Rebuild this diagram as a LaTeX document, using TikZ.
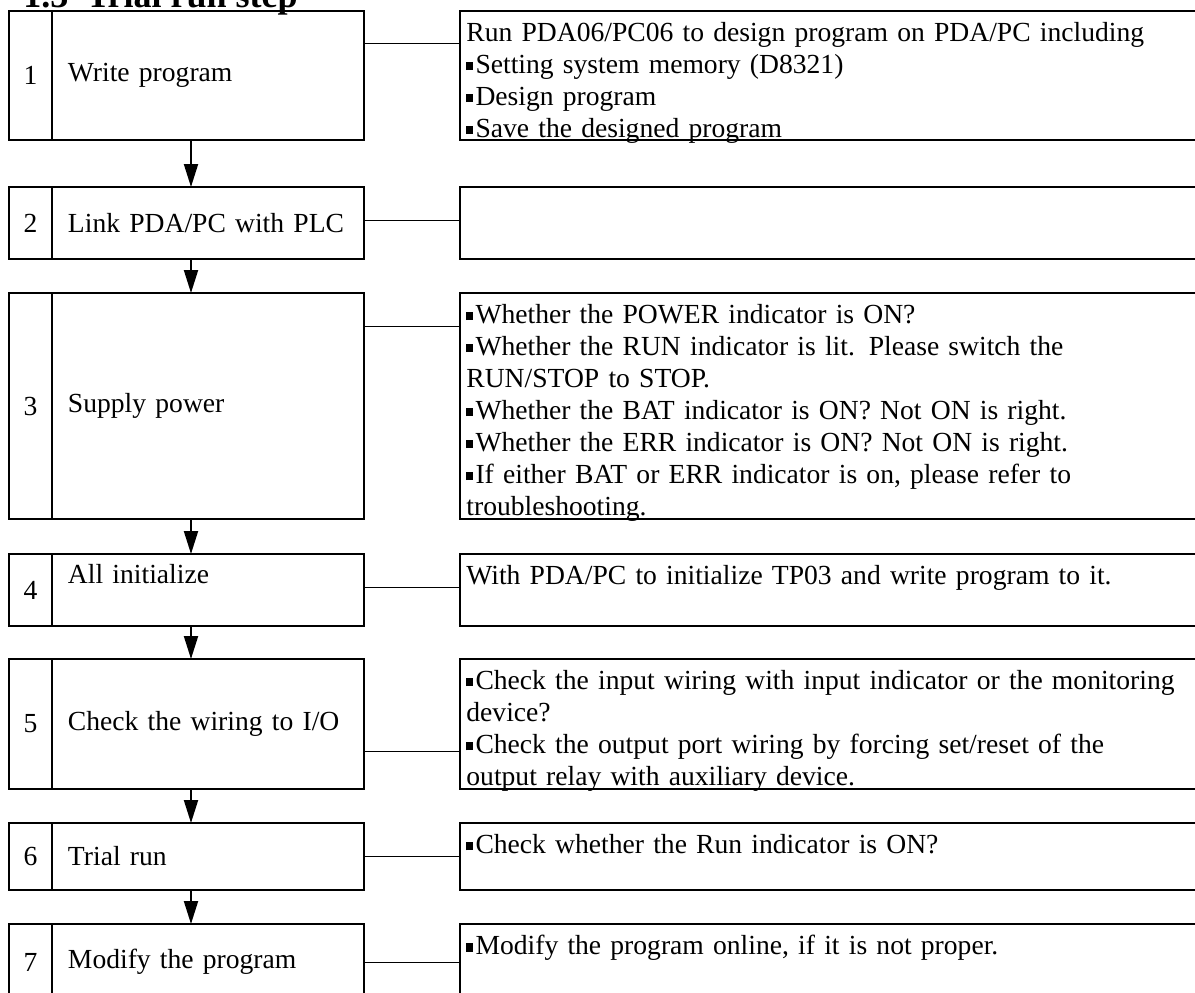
\documentclass[tikz,border=0pt]{standalone}
\usepackage{fontspec}
\setmainfont{Liberation Serif}
\usetikzlibrary{positioning,arrows.meta}

\newcommand{\sqbul}{\rule[0.12em]{0.23em}{0.3em}\hspace{0.1em}}

\begin{document}
\begin{tikzpicture}[
		x=0.5pt, y=-0.5pt,
		every node/.style={font=\fontsize{13.8}{16}\selectfont},
		numbox/.style={draw, line width=1pt, outer sep=0pt, inner sep=0pt, minimum width=21.5pt},
		stepbox/.style={draw, line width=1pt, outer sep=0pt, inner xsep=8pt, inner ysep=0pt, text width=140pt, align=left},
		infobox/.style={draw, line width=1pt, outer sep=0pt, inner sep=0pt, minimum width=380pt},
		infotext/.style={anchor=north west, inner sep=0pt, text width=370pt, align=left},
		arrow/.style={-{Triangle[length=11.5pt, width=7pt]}, line width=1pt},
		link/.style={line width=0.5pt}
		]
		\useasboundingbox (0,0) rectangle (1195,992);
		\clip (0,0) rectangle (1195,992);
		
		\node[anchor=base west, inner sep=0pt, font=\fontsize{18}{20}\selectfont\bfseries] (title) at (23,7) {1.3\hspace{0.5em}Trial run step};
		
		% ---- step 1 ----
		\node[numbox, minimum height=64.5pt, anchor=north west] (n1) at (9,11) {1};
		\node[stepbox, minimum height=64.5pt, right=0pt of n1] (s1) {Write program};
		\node[infobox, minimum height=64.5pt, right=48pt of s1] (d1) {};
		\node[infotext] (t1) at ([xshift=3pt, yshift=-5.5pt]d1.north west) {Run PDA06/PC06 to design program on PDA/PC including\\
			\sqbul Setting system memory (D8321)\\
			\sqbul Design program\\
			\sqbul Save the designed program};
		
		% ---- step 2 ----
		\node[numbox, minimum height=36pt, below=23.5pt of n1] (n2) {2};
		\node[stepbox, minimum height=36pt, right=0pt of n2] (s2) {Link PDA/PC with PLC};
		\node[infobox, minimum height=36pt, right=48pt of s2] (d2) {};
		
		% ---- step 3 ----
		\node[numbox, minimum height=113pt, below=17pt of n2] (n3) {3};
		\node[stepbox, minimum height=113pt, right=0pt of n3] (s3) {Supply power};
		\node[infobox, minimum height=113pt, right=48pt of s3] (d3) {};
		\node[infotext] (t3) at ([xshift=3pt, yshift=-5.5pt]d3.north west) {\sqbul Whether the POWER indicator is ON?\\
			\sqbul Whether the RUN indicator is lit. Please switch the\\
			RUN/STOP to STOP.\\
			\sqbul Whether the BAT indicator is ON? Not ON is right.\\
			\sqbul Whether the ERR indicator is ON? Not ON is right.\\
			\sqbul If either BAT or ERR indicator is on, please refer to\\
			troubleshooting.};
		
		% ---- step 4 ----
		\node[numbox, minimum height=36pt, below=17.5pt of n3] (n4) {4};
		\node[stepbox, minimum height=36pt, right=0pt of n4] (s4) {All initialize\\ \mbox{}};
		\node[infobox, minimum height=36pt, right=48pt of s4] (d4) {};
		\node[infotext] (t4) at ([xshift=3pt, yshift=-5.5pt]d4.north west) {With PDA/PC to initialize TP03 and write program to it.};
		
		% ---- step 5 ----
		\node[numbox, minimum height=65pt, below=16.5pt of n4] (n5) {5};
		\node[stepbox, minimum height=65pt, right=0pt of n5] (s5) {Check the wiring to I/O};
		\node[infobox, minimum height=65pt, right=48pt of s5] (d5) {};
		\node[infotext] (t5) at ([xshift=3pt, yshift=-5.5pt]d5.north west) {\sqbul Check the input wiring with input indicator or the monitoring\\
			device?\\
			\sqbul Check the output port wiring by forcing set/reset of the\\
			output relay with auxiliary device.};
		
		% ---- step 6 ----
		\node[numbox, minimum height=33.5pt, below=17pt of n5] (n6) {6};
		\node[stepbox, minimum height=33.5pt, right=0pt of n6] (s6) {Trial run};
		\node[infobox, minimum height=33.5pt, right=48pt of s6] (d6) {};
		\node[infotext] (t6) at ([xshift=3pt, yshift=-5.5pt]d6.north west) {\sqbul Check whether the Run indicator is ON?};
		
		% ---- step 7 ----
		\node[numbox, minimum height=38pt, below=17pt of n6] (n7) {7};
		\node[stepbox, minimum height=38pt, right=0pt of n7] (s7) {Modify the program};
		\node[infobox, minimum height=38pt, right=48pt of s7] (d7) {};
		\node[infotext] (t7) at ([xshift=3pt, yshift=-5.5pt]d7.north west) {\sqbul Modify the program online, if it is not proper.};
		
		\draw[arrow] ([xshift=-8.5pt]s1.south) -- ([xshift=-8.5pt]s2.north);
		\draw[arrow] ([xshift=-8.5pt]s2.south) -- ([xshift=-8.5pt]s3.north);
		\draw[arrow] ([xshift=-8.5pt]s3.south) -- ([xshift=-8.5pt]s4.north);
		\draw[arrow] ([xshift=-8.5pt]s4.south) -- ([xshift=-8.5pt]s5.north);
		\draw[arrow] ([xshift=-8.5pt]s5.south) -- ([xshift=-8.5pt]s6.north);
		\draw[arrow] ([xshift=-8.5pt]s6.south) -- ([xshift=-8.5pt]s7.north);
		
		\draw[link] ([yshift=16.25pt]s1.east) -- ([yshift=16.25pt]d1.west);
		\draw[link] ([yshift=1.5pt]s2.east) -- ([yshift=1.5pt]d2.west);
		\draw[link] ([yshift=40pt]s3.east) -- ([yshift=40pt]d3.west);
		\draw[link] ([yshift=1.5pt]s4.east) -- ([yshift=1.5pt]d4.west);
		\draw[link] ([yshift=-13.5pt]s5.east) -- ([yshift=-13.5pt]d5.west);
		\draw[link] (s6.east) -- (d6.west);
		\draw[link] (s7.east) -- (d7.west);
		
	\end{tikzpicture}
\end{document}
